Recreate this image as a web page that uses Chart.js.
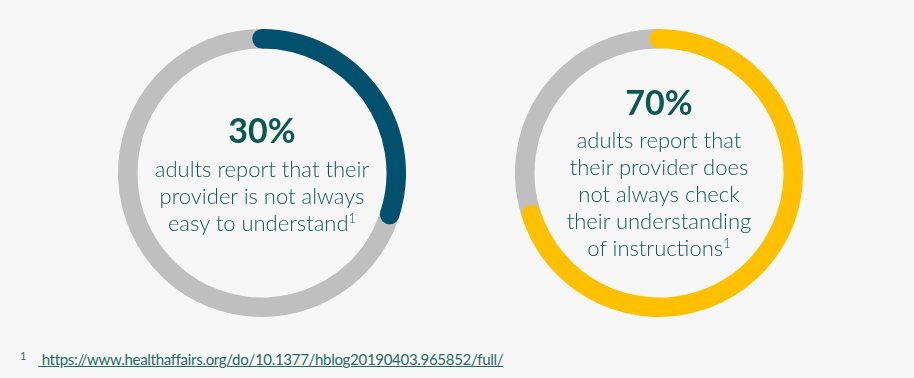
<!DOCTYPE html>
<html>
<head>
<meta charset="utf-8">
<script src="https://cdn.jsdelivr.net/npm/chart.js@4"></script>
<style>
    body { margin: 0; background: #f7f7f7; font-family: Lato, 'Open Sans', sans-serif; }
    #wrap { position: relative; width: 914px; height: 378px; overflow: hidden; }
    .ring { position: absolute; top: 29px; width: 288px; height: 288px; }
    .big { position: absolute; width: 300px; text-align: center; font-weight: 700; font-size: 34px; line-height: 34px; color: #0a5a52; }
    .txt { position: absolute; width: 300px; text-align: center; font-size: 22px; line-height: 27px; color: #115b55; font-weight: 300; }
    .txt sup { font-size: 13px; line-height: 0; vertical-align: 8px; }
    #nota { position: absolute; left: 20px; top: 349px; font-size: 15px; letter-spacing: -0.3px; color: #1f6b66; }
    #nota sup { font-size: 11px; vertical-align: 5px; margin-right: 12px; }
    #nota a { color: #1f6b66; text-decoration: underline; }
</style>
</head>
<body>
<div id="wrap">
    <div class="ring" style="left:118px"><canvas id="chartUno"></canvas></div>
    <div class="ring" style="left:515px"><canvas id="chartDos"></canvas></div>

    <div class="big" style="left:112px; top:113px">30%</div>
    <div class="txt" style="left:112px; top:155px">adults report that their<br>provider is not always<br>easy to understand<sup>1</sup></div>

    <div class="big" style="left:509px; top:85px">70%</div>
    <div class="txt" style="left:509px; top:126px">adults report that<br>their provider does<br>not always check<br>their understanding<br>of instructions<sup>1</sup></div>

    <div id="nota"><sup>1</sup><a href="#"> https://www.healthaffairs.org/do/10.1377/hblog20190403.965852/full/</a></div>
</div>

<script>
const etiquetas = ['Sí', 'No'];
const valoresUno = [30, 70];
const valoresDos = [70, 30];
const coloresUno = ['#00506e', '#bfbfbf'];
const coloresDos = ['#ffc000', '#bfbfbf'];

const GROSOR = 19.5;

// puntas redondeadas del arco de color
const puntasPlugin = {
    id: 'puntas',
    afterDatasetsDraw(chart) {
        const arc = chart.getDatasetMeta(0).data[0];
        if (!arc) return;
        const { x, y, startAngle, endAngle, innerRadius, outerRadius } = arc.getProps(['x', 'y', 'startAngle', 'endAngle', 'innerRadius', 'outerRadius'], true);
        const r = (innerRadius + outerRadius) / 2;
        const w = (outerRadius - innerRadius) / 2;
        const ctx = chart.ctx;
        ctx.save();
        ctx.fillStyle = chart.data.datasets[0].backgroundColor[0];
        [startAngle, endAngle].forEach(a => {
            ctx.beginPath();
            ctx.arc(x + r * Math.cos(a), y + r * Math.sin(a), w, 0, Math.PI * 2);
            ctx.fill();
        });
        ctx.restore();
    }
};

function crearAnillo(id, valores, colores) {
    const ctx = document.getElementById(id).getContext('2d');
    return new Chart(ctx, {
        type: 'doughnut',
        data: {
            labels: etiquetas,
            datasets: [{
                data: valores,
                backgroundColor: colores,
                borderWidth: 0
            }]
        },
        options: {
            responsive: true,
            maintainAspectRatio: false,
            animation: false,
            cutout: 144 - GROSOR,
            plugins: {
                legend: { display: false },
                tooltip: { enabled: false }
            }
        },
        plugins: [puntasPlugin]
    });
}

crearAnillo('chartUno', valoresUno, coloresUno);
crearAnillo('chartDos', valoresDos, coloresDos);
</script>
</body>
</html>
